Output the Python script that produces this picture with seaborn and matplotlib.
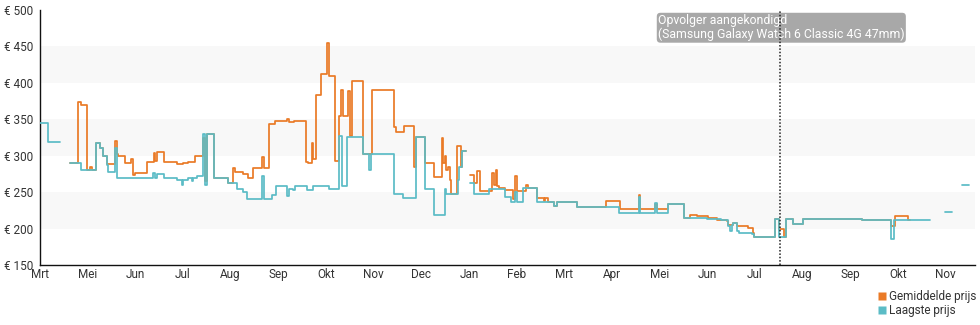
import numpy as np
import pandas as pd
import matplotlib
matplotlib.use("Agg")
import matplotlib.pyplot as plt
from matplotlib.lines import Line2D
import seaborn as sns

# ---------------- data (month index since start, price in EUR) ----------------
nan = np.nan
maand_labels = ['Mrt', 'Mei', 'Jun', 'Jul', 'Aug', 'Sep', 'Okt', 'Nov', 'Dec', 'Jan',
                'Feb', 'Mrt', 'Apr', 'Mei', 'Jun', 'Jul', 'Aug', 'Sep', 'Okt', 'Nov']
maand_posities = list(range(len(maand_labels)))

laagste_maand = [0.0, 0.16, 0.42, nan,
                 0.64, 0.87, 1.18, 1.26, 1.32, 1.40, 1.42, 1.57, 1.61, 2.38, 2.42, 2.46, 2.61,
                 2.87, 2.97, 3.0, 3.11, 3.2, 3.22, 3.29, 3.41, 3.46, 3.5, 3.66, 3.94, 4.13,
                 4.27, 4.34, 4.65, 4.69, 4.86, 4.95, 5.19, 5.22, 5.3, 5.35, 5.6, 5.72, 6.07,
                 6.27, 6.33, 6.44, 6.77, 6.91, 6.95, 7.42, 7.62, 7.88, 8.07, 8.27, 8.49, 8.51,
                 8.77, 8.8, 8.86, 8.93, nan,
                 9.02, 9.1, 9.43, 9.75, 9.89, 9.96, 10.0, 10.13, 10.43, 10.79, 10.84, 11.27,
                 12.15, 12.57, 12.6, 12.9, 12.94, 13.18, 13.52, 13.8, 14.0, 14.3, 14.44, 14.48,
                 14.52, 14.55, 14.63, 14.66, 14.94, 14.98, 15.42, 15.51, 15.66, 15.8, 16.01,
                 17.25, 17.86, 17.91, 18.68, nan,
                 18.99, 19.14, nan,
                 19.35, 19.5]
laagste_prijs = [345, 319, 319, nan,
                 290, 280, 318, 310, 300, 287, 277, 310, 270, 276, 270, 275, 270,
                 267, 260, 267, 270, 265, 270, 272, 330, 260, 330, 270, 263, 255,
                 250, 241, 272, 241, 246, 259, 245, 255, 253, 259, 253, 259, 255,
                 327, 258, 326, 303, 281, 302, 247, 242, 326, 255, 219, 255, 247,
                 267, 285, 306, 306, nan,
                 262, 247, 255, 244, 237, 250, 237, 256, 236, 231, 236, 229,
                 221, 244, 221, 235, 221, 234, 215, 214, 213, 212, 203, 196,
                 205, 208, 196, 194, 192, 189, 213, 189, 213, 206, 213,
                 212, 186, 212, 212, nan,
                 223, 223, nan,
                 260, 260]

gemiddelde_maand = [0.64, 0.79, 0.87, 0.98, 1.05, 1.1, 1.18, 1.26, 1.32, 1.40, 1.57, 1.61, 1.64,
                    1.78, 1.9, 1.96, 2.0, 2.24, 2.39, 2.42, 2.46, 2.61, 2.87, 3.0, 3.11, 3.25,
                    3.41, 3.46, 3.5, 3.66, 3.94, 4.06, 4.1, 4.27, 4.37, 4.46, 4.65, 4.69, 4.81,
                    4.93, 5.19, 5.22, 5.32, 5.58, 5.63, 5.7, 5.73, 5.8, 5.9, 6.02, 6.06, 6.2,
                    6.28, 6.32, 6.35, 6.46, 6.51, 6.54, 6.77, 6.97, 7.42, 7.47, 7.64, 7.85,
                    7.89, 8.07, 8.27, 8.44, 8.46, 8.49, 8.51, 8.56, 8.6, 8.63, 8.76, 8.84,
                    8.86, 8.93, nan,
                    9.02, 9.1, 9.16, 9.23, 9.49, 9.53, 9.56, 9.59, 9.63, 9.75, 9.92, 9.96,
                    10.0, 10.2, 10.25, 10.43, 10.58, 10.6, 10.66, 10.79, 10.84, 11.27, 11.88,
                    12.17, 12.57, 12.6, 12.9, 12.94, 13.18, 13.52, 13.64, 13.79, 14.02, 14.2,
                    14.42, 14.44, 14.55, 14.63, 14.86, 14.96, 14.98, 15.42, 15.51, 15.62,
                    15.66, 15.8, 16.01, 17.25, 17.86, 17.94, 18.22, 18.26]
gemiddelde_prijs = [290, 374, 370, 281, 285, 280, 318, 310, 300, 288, 320, 303, 300,
                    290, 295, 273, 276, 292, 304, 293, 305, 291, 288, 290, 291, 300,
                    325, 265, 330, 270, 263, 283, 278, 275, 270, 283, 298, 283, 344,
                    347, 350, 346, 348, 292, 290, 318, 295, 383, 412, 455, 410, 293,
                    355, 390, 354, 389, 327, 403, 303, 390, 340, 333, 341, 285,
                    326, 290, 271, 324, 290, 299, 281, 285, 267, 247, 314, 285,
                    306, 306, nan,
                    273, 262, 279, 251, 276, 260, 280, 258, 256, 253, 240, 272,
                    252, 260, 256, 242, 238, 242, 237, 231, 236, 229, 238,
                    227, 246, 227, 234, 227, 234, 215, 219, 217, 214, 212,
                    210, 205, 208, 203, 201, 194, 189, 213, 200, 189,
                    213, 206, 213, 212, 203, 217, 212, 212]

opvolger_maand = 15.53
opvolger_tekst = "Opvolger aangekondigd\n(Samsung Galaxy Watch 6 Classic 4G 47mm)"
serie_namen = ['Gemiddelde prijs', 'Laagste prijs']
kleuren = ['#ea7a26', '#5bbcc6']


def to_frame(maand, prijs, naam, offset):
    m = np.asarray(maand, dtype=float)
    p = np.asarray(prijs, dtype=float)
    seg = np.cumsum(np.isnan(m)) + offset
    df = pd.DataFrame({'maand': m, 'prijs': p, 'serie': naam, 'segment': seg})
    return df.dropna()


df = pd.concat([to_frame(gemiddelde_maand, gemiddelde_prijs, serie_namen[0], 0),
                to_frame(laagste_maand, laagste_prijs, serie_namen[1], 100)],
               ignore_index=True)

# ---------------- figure ----------------
sns.set_style('white')
plt.rcParams['font.family'] = ['Roboto', 'DejaVu Sans']

fig = plt.figure(figsize=(9.8, 3.25), dpi=100)
ax = fig.add_axes([40 / 980, 1 - 265 / 325, 935 / 980, 255 / 325])

for lo in (200, 300, 400):
    ax.axhspan(lo, lo + 50, color='#f8f8f8', zorder=0, lw=0)

sns.lineplot(data=df, x='maand', y='prijs', hue='serie', hue_order=serie_namen,
             palette=kleuren, units='segment', estimator=None, drawstyle='steps-post',
             linewidth=1.25, legend=False, ax=ax, zorder=3)

ax.set_xlim(0, 19.62)
ax.set_ylim(150, 500)
ax.set_yticks(range(150, 501, 50))
ax.set_yticklabels([f"€ {v}" for v in range(150, 501, 50)])
ax.set_xticks(maand_posities)
ax.set_xticklabels(maand_labels)
ax.set_xlabel('')
ax.set_ylabel('')

for s in ('top', 'right'):
    ax.spines[s].set_visible(False)
for s in ('left', 'bottom'):
    ax.spines[s].set_color('#111111')
    ax.spines[s].set_linewidth(1.0)

ax.tick_params(axis='y', direction='out', length=4, width=1, color='#111111',
               labelsize=8.5, labelcolor='#333333', pad=1)
ax.tick_params(axis='x', direction='inout', length=5, width=1, color='#111111',
               labelsize=8.5, labelcolor='#333333', pad=0)
ax.grid(False)

ax.axvline(opvolger_maand, color='#222222', linestyle=(0, (1, 1.2)), linewidth=1.1, zorder=6)
ax.text((658 - 40) / 935, (265 - 14) / 255, opvolger_tekst, transform=ax.transAxes,
        ha='left', va='top', color='white', fontsize=8.8, linespacing=1.1, zorder=5,
        bbox=dict(boxstyle='round,pad=0.1,rounding_size=0.3', facecolor='#a8a8a8',
                  edgecolor='none'))

handles = [Line2D([], [], marker='s', linestyle='none', markersize=5.5,
                  markerfacecolor=c, markeredgecolor='none', label=n)
           for c, n in zip(kleuren, serie_namen)]
fig.legend(handles=handles, loc='upper right', bbox_to_anchor=(976 / 980, 1 - 290 / 325),
           frameon=False, fontsize=8.5, handlelength=0.5, handletextpad=0.3,
           labelspacing=0.1, borderpad=0, borderaxespad=0, labelcolor='#333333')

fig.savefig('out.png', dpi=100)
